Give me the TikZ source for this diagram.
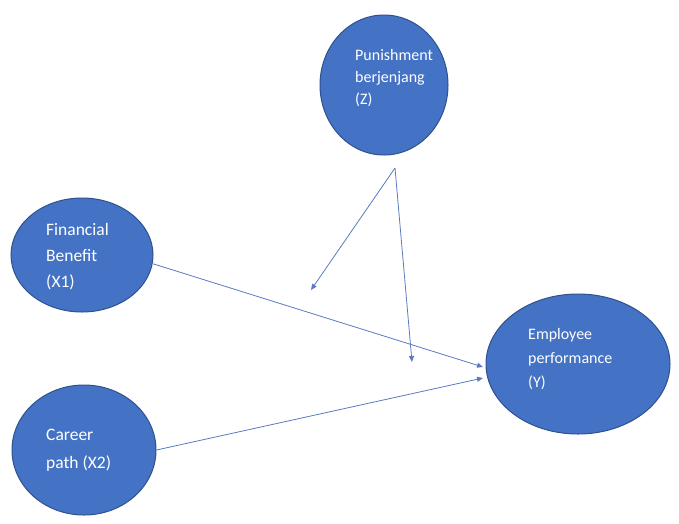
\documentclass[tikz,border=0pt]{standalone}
\usepackage{fontspec}
\setmainfont{Carlito}
\usetikzlibrary{shapes.geometric,arrows.meta}
\definecolor{ofblue}{HTML}{4472C4}
\definecolor{ofedge}{HTML}{2F528F}
\definecolor{lnblue}{HTML}{5B7BC0}
\tikzset{
  var/.style={ellipse, draw=ofedge, line width=1pt, fill=ofblue, inner sep=0pt},
  lbl/.style={text=white, align=left, anchor=north west, inner sep=0pt},
  link/.style={draw=lnblue, line width=0.8pt, -{Triangle[length=6pt,width=5pt]}}
}
\begin{document}
\begin{tikzpicture}[x=1pt,y=-1pt]
\useasboundingbox[fill=white] (0,0) rectangle (679,523);
\node[var, minimum width=128pt, minimum height=140pt] (z) at (384,85) {};
\node[var, minimum width=142pt, minimum height=114pt] (x1) at (82,255) {};
\node[var, minimum width=144pt, minimum height=130pt] (x2) at (84,450) {};
\node[var, minimum width=184pt, minimum height=140pt] (y) at (578,364) {};
\node[lbl, font=\fontsize{16}{22}\selectfont] (zt) at (355,49) {Punishment\\berjenjang\\(Z)};
\node[lbl, font=\fontsize{17.5}{26}\selectfont] (x1t) at (46,223) {Financial\\Benefit\\(X1)};
\node[lbl, font=\fontsize{17.5}{28}\selectfont] (x2t) at (46,429) {Career\\path (X2)};
\node[lbl, font=\fontsize{16}{24}\selectfont] (yt) at (528,328) {Employee\\performance\\(Y)};
\coordinate (apex) at (395,168);
\coordinate (m1) at (311,290);
\coordinate (m2) at (412,362);
\coordinate (e1) at (483,367);
\coordinate (e2) at (483,378);
\draw[link] (apex) -- (m1);
\draw[link] (apex) -- (m2);
\draw[link] (x1.-7) -- (e1);
\draw[link] (x2.east) -- (e2);
\end{tikzpicture}
\end{document}
